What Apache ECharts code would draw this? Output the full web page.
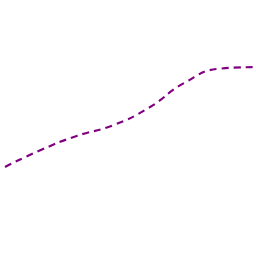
<!DOCTYPE html>
<html><head><meta charset="utf-8">
<script src="https://cdn.jsdelivr.net/npm/echarts@6/dist/echarts.min.js"></script>
<style>html,body{margin:0;padding:0;background:#fff}#c{width:256px;height:256px}</style>
</head><body><div id="c"></div>
<script>
const categories = ['A', 'B', 'C', 'D', 'E', 'F', 'G', 'H'];
const values = [34.8, 41.4, 46.9, 51.0, 57.8, 67.6, 73.2, 73.8];
const chart = echarts.init(document.getElementById('c'), null, {renderer: 'canvas'});
chart.setOption({
  animation: false,
  grid: {left: 5, right: 0, top: 0, bottom: 0},
  xAxis: {type: 'category', data: categories, boundaryGap: false, show: false},
  yAxis: {type: 'value', min: 0, max: 100, show: false},
  series: [{
    type: 'line', data: values, smooth: true, symbol: 'none',
    lineStyle: {color: '#800080', width: 2.2, type: [7, 5]}
  }]
});
</script></body></html>
